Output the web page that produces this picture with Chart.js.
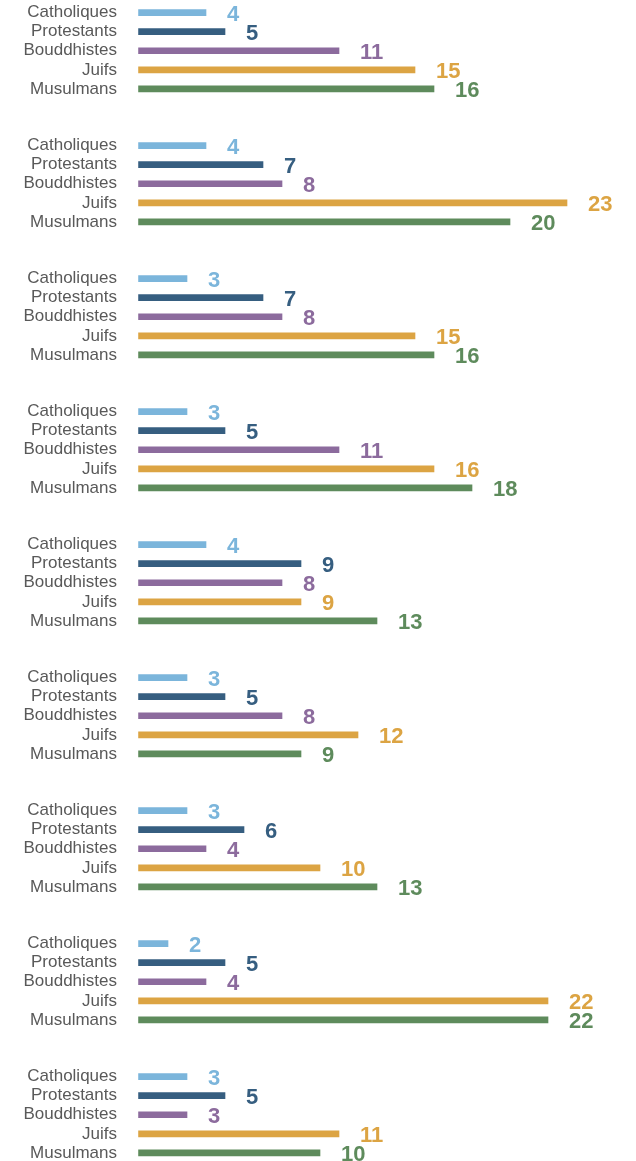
<!DOCTYPE html>
<html lang="fr">
<head>
<meta charset="utf-8">
<title>Religions</title>
<script src="https://cdn.jsdelivr.net/npm/chart.js@4.4.1/dist/chart.umd.min.js"></script>
<style>
  html, body { margin: 0; padding: 0; background: #fff; overflow: hidden; }
  #panels { width: 636px; height: 1161px; overflow: hidden; }
  #panels canvas { display: block; }
</style>
</head>
<body>
<div id="panels"></div>
<script>
// Religion categories, one bar each per panel
const religions = ['Catholiques', 'Protestants', 'Bouddhistes', 'Juifs', 'Musulmans'];

// One value per panel (9 panels, top to bottom)
const catholiques = [4, 4, 3, 3, 4, 3, 3, 2, 3];
const protestants = [5, 7, 7, 5, 9, 5, 6, 5, 5];
const bouddhistes = [11, 8, 8, 11, 8, 8, 4, 4, 3];
const juifs       = [15, 23, 15, 16, 9, 12, 10, 22, 11];
const musulmans   = [16, 20, 16, 18, 13, 9, 13, 22, 10];

const colors = ['#7bb5db', '#365e80', '#8c6b9d', '#dca443', '#5e8b5c'];

// Bold value written to the right of each bar, in the bar's colour
const valueLabels = {
    id: 'valueLabels',
    afterDatasetsDraw(chart) {
        const ctx = chart.ctx;
        const meta = chart.getDatasetMeta(0);
        const data = chart.data.datasets[0].data;
        ctx.save();
        ctx.font = 'bold 22px "Liberation Sans", Arial, sans-serif';
        ctx.textAlign = 'left';
        ctx.textBaseline = 'alphabetic';
        meta.data.forEach((bar, i) => {
            ctx.fillStyle = colors[i];
            ctx.fillText(String(data[i]), bar.x + 21, bar.y + 8);
        });
        ctx.restore();
    }
};

const panels = document.getElementById('panels');

for (let p = 0; p < catholiques.length; p++) {
    const canvas = document.createElement('canvas');
    canvas.width = 636;
    canvas.height = 133;
    panels.appendChild(canvas);

    const values = [catholiques[p], protestants[p], bouddhistes[p], juifs[p], musulmans[p]];

    new Chart(canvas.getContext('2d'), {
        type: 'bar',
        data: {
            labels: religions,
            datasets: [{
                data: values,
                backgroundColor: colors,
                barThickness: 6,
                base: 0.45
            }]
        },
        options: {
            indexAxis: 'y',
            responsive: false,
            animation: false,
            layout: { padding: { top: 3, bottom: 34.5, left: 0, right: 31 } },
            plugins: {
                legend: { display: false },
                tooltip: { enabled: false }
            },
            scales: {
                x: { display: false, min: 0, max: 25 },
                y: {
                    afterFit: (axis) => {
                        axis.width = 130;
                        axis.paddingTop = 0;
                        axis.paddingBottom = 0;
                    },
                    grid: { display: false, drawTicks: false },
                    border: { display: false },
                    ticks: {
                        autoSkip: false,
                        padding: 13,
                        color: '#595959',
                        font: { family: '"Liberation Sans", Arial, sans-serif', size: 17 }
                    }
                }
            }
        },
        plugins: [valueLabels]
    });
}
</script>
</body>
</html>
